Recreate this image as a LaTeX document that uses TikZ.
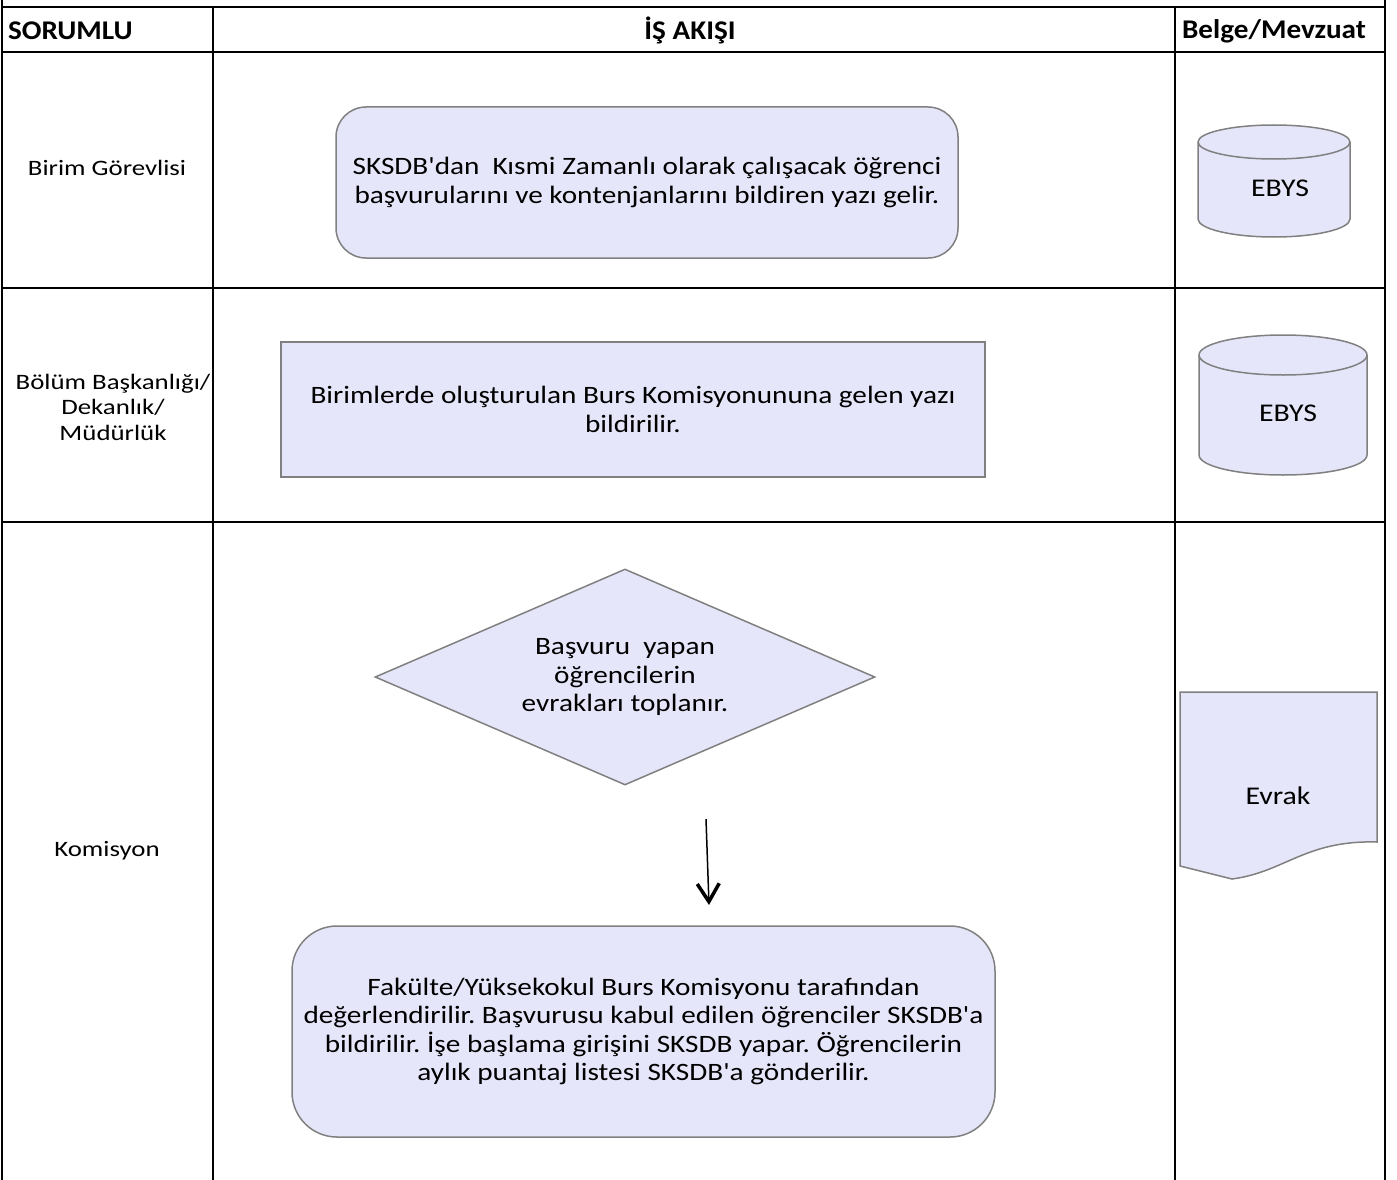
\documentclass[tikz,border=0pt]{standalone}
\usepackage{fontspec}
\setmainfont{Carlito}[Ligatures=TeXOff]
\newfontfamily\bodyfont{Carlito}[FakeStretch=1.17, Ligatures=TeXOff]
\newfontfamily\lanefont{Carlito}[FakeStretch=1.22, Ligatures=TeXOff]
\newfontfamily\headfont{Carlito}[FakeStretch=1.08, Ligatures=TeXOff]
\usetikzlibrary{
    positioning,
    arrows.meta,
    shapes.geometric
}
\definecolor{boxfill}{RGB}{230,230,250}
\definecolor{boxline}{RGB}{128,128,128}
\frenchspacing

\begin{document}
\begin{tikzpicture}[x=1pt, y=-1pt,
    grid/.style={line width=2pt},
    flow/.style={draw=boxline, fill=boxfill, line width=1.5pt, align=center,
      inner sep=0pt, font=\bodyfont\fontsize{25}{28.3}\selectfont},
    store/.style={draw=boxline, fill=boxfill, line width=1.5pt},
    label/.style={font=\bodyfont\fontsize{25.5}{28}\selectfont},
    lane/.style={align=center, font=\lanefont\fontsize{22}{25.5}\selectfont},
    head/.style={font=\headfont\bfseries\fontsize{27}{30}\selectfont}]
    \useasboundingbox (0,0) rectangle (1397,1180);

    % Table
    \draw[grid] (2,0) -- (2,1180);
    \draw[grid] (1385,0) -- (1385,1180);
    \draw[grid] (213,7) -- (213,1180);
    \draw[grid] (1175,7) -- (1175,1180);
    \draw[grid] (2,7) -- (1385,7);
    \draw[grid] (2,52) -- (1385,52);
    \draw[grid] (2,288) -- (1385,288);
    \draw[grid] (2,522) -- (1385,522);

    % Header
    \node[head, anchor=west, inner sep=0pt] (sorumlu) at (8,31) {SORUMLU};
    \node[head] (isakisi) at (690,30) {İŞ AKIŞI};
    \node[head] (belge) at (1274,31) {Belge/Mevzuat};

    % Lanes
    \node[lane] (birim) at (107,168) {Birim Görevlisi};
    \node[lane] (bolum) at (113,407) {Bölüm Başkanlığı/\\Dekanlık/\\Müdürlük};
    \node[lane] (komisyon) at (107,851) {Komisyon};

    % Flow steps
    \node[flow, rounded corners=30pt, minimum width=622pt, minimum height=151pt]
      (yazi) at (647,182.5) {SKSDB'dan \ Kısmi Zamanlı olarak çalışacak öğrenci\\başvurularını ve kontenjanlarını bildiren yazı gelir.};
    \node[flow, minimum width=704pt, minimum height=135pt]
      (komis) at (633,409.5) {Birimlerde oluşturulan Burs Komisyonununa gelen yazı\\bildirilir.};
    \node[flow, shape=diamond, aspect=2.31, minimum width=500pt, minimum height=216pt]
      (evraklar) at (625,677) {Başvuru \ yapan\\öğrencilerin\\evrakları toplanır.};
    \node[flow, rounded corners=45pt, minimum width=703pt, minimum height=211pt]
      (degerlendir) at (643.5,1031.5) {Fakülte/Yüksekokul Burs Komisyonu tarafından\\değerlendirilir. Başvurusu kabul edilen öğrenciler SKSDB'a\\bildirilir. İşe başlama girişini SKSDB yapar. Öğrencilerin\\aylık puantaj listesi SKSDB'a gönderilir.};

    % Arrow
    \coordinate (oktop) at (706,819);
    \coordinate (okend) at (709,905);
    \draw[line width=1.5pt, -{Straight Barb[length=18pt, width=22pt, line width=3.5pt]}] (oktop) -- (okend);

    % Documents
    \filldraw[store] (1198,142) -- (1198,219) arc[start angle=180, end angle=0, x radius=76, y radius=18]
      -- (1350,142) arc[start angle=0, end angle=-180, x radius=76, y radius=17] -- cycle;
    \draw[store, fill=none] (1198,142) arc[start angle=180, end angle=0, x radius=76, y radius=17];
    \node[label] (ebys1) at (1280,188) {EBYS};

    \filldraw[store] (1199,355) -- (1199,455) arc[start angle=180, end angle=0, x radius=84, y radius=20]
      -- (1367,355) arc[start angle=0, end angle=-180, x radius=84, y radius=20] -- cycle;
    \draw[store, fill=none] (1199,355) arc[start angle=180, end angle=0, x radius=84, y radius=20];
    \node[label] (ebys2) at (1288,413) {EBYS};

    \filldraw[store] (1180,692) -- (1377,692) -- (1377,842)
      .. controls (1305,840) and (1285,872) .. (1232,879) -- (1180,866) -- cycle;
    \node[label] (evrak) at (1278,796) {Evrak};
\end{tikzpicture}
\end{document}
